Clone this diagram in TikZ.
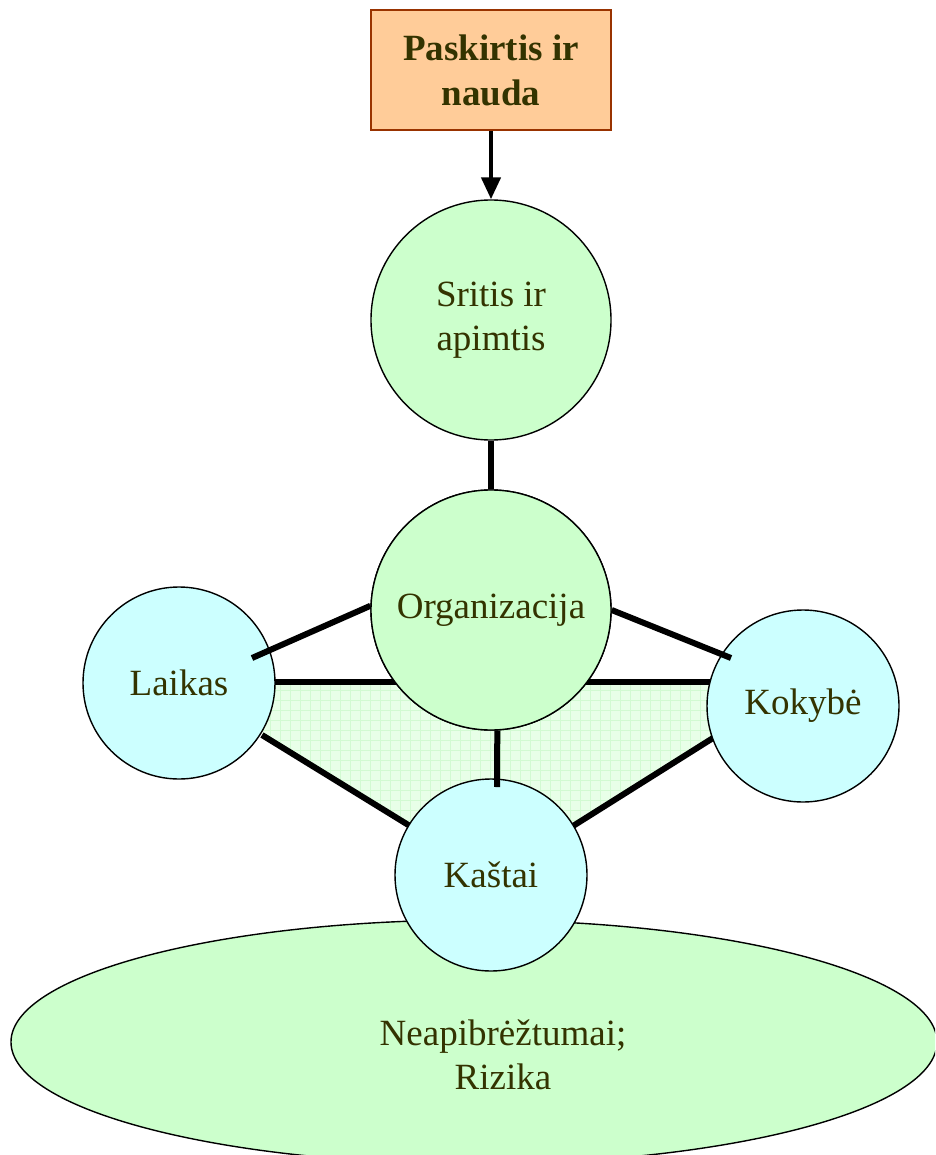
\documentclass[tikz,border=0pt]{standalone}
\usepackage{fontspec}
\setmainfont{Liberation Serif}
\usetikzlibrary{shapes.geometric,arrows.meta}
\definecolor{txt}{RGB}{51,51,0}
\definecolor{gfill}{RGB}{204,255,204}
\definecolor{cfill}{RGB}{204,255,255}
\definecolor{ofill}{RGB}{255,204,153}
\definecolor{oedge}{RGB}{153,51,0}
\definecolor{trifill}{RGB}{232,255,232}
\definecolor{trigrid}{RGB}{210,250,210}
\begin{document}
\begin{tikzpicture}[x=1pt,y=-1pt,
  bubble/.style={circle,draw=black,line width=1.4pt,inner sep=0pt,text=txt,
    font=\fontsize{37}{44}\selectfont,align=center},
  bigc/.style={bubble,fill=gfill,minimum size=240pt},
  smallc/.style={bubble,fill=cfill,minimum size=192pt},
  link/.style={line width=6pt},
  topbox/.style={draw=oedge,line width=1.6pt,fill=ofill,minimum width=240pt,minimum height=120pt,
    text=txt,font=\fontsize{37}{45}\selectfont\bfseries,align=center,inner sep=0pt}]
\clip (0,0) rectangle (935,1155);
\useasboundingbox (0,0) rectangle (935,1155);
\fill[white] (0,0) rectangle (935,1155);
% triangle area
\coordinate (t1) at (275,682);
\coordinate (t2) at (711,682);
\coordinate (t6) at (713,738);
\coordinate (t3) at (573,826);
\coordinate (t4) at (410,826);
\coordinate (t5) at (262,735);
\begin{scope}
\clip (t1) -- (t2) -- (t6) -- (t3) -- (t4) -- (t5) -- cycle;
\fill[trifill] (250,670) rectangle (720,840);
\draw[trigrid,line width=0.6pt,step=10pt] (250,670) grid (720,840);
\end{scope}
% ellipse
\node[ellipse,draw=black,line width=1.4pt,fill=gfill,minimum width=926pt,minimum height=244pt,inner sep=0pt] (risk) at (474,1042) {};
\node[text=txt,font=\fontsize{37}{44}\selectfont,align=center] (risktxt) at (503,1055) {Neapibrėžtumai;\\Rizika};
% triangle edges
\draw[link] (t1) -- (t2);
\draw[link] (t5) -- (t4);
\draw[link] (t3) -- (t6);
% small circles
\node[smallc] (laikas) at (179,683) {Laikas};
\node[smallc] (kokybe) at (803,706) {Kokybė};
\node[smallc] (kastai) at (491,875) {Kaštai};
% connectors to Organizacija
\coordinate (lk) at (252,658);
\coordinate (kk) at (731,658);
\coordinate (vb) at (497,787);
\node[bigc] (org) at (491,610) {Organizacija};
\draw[link] (lk) -- (org.178);
\draw[link] (kk) -- (org.0);
\draw[link] (org.-87) -- (vb);
\node[bigc] (org2) at (491,610) {Organizacija};
% top part
\node[bigc] (sritis) at (491,320) {Sritis ir\\apimtis};
\draw[link] (sritis.south) -- (org2.north);
\node[topbox] (box) at (491,70) {Paskirtis ir\\nauda};
\draw[line width=4.5pt,-{Triangle[length=22pt,width=19pt]}] (box.south) -- (sritis.north);
\end{tikzpicture}
\end{document}
